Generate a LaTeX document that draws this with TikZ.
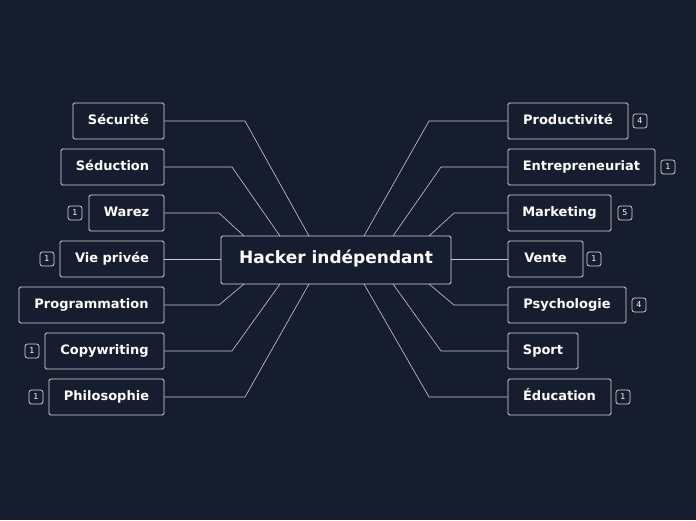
\documentclass[tikz,border=0pt]{standalone}
\usepackage{fontspec}
\setmainfont{DejaVu Sans}
\begin{document}
\begin{tikzpicture}[x=1pt,y=-1pt,
  bx/.style={draw=white!85!black,fill=bg,rounded corners=1.5pt,line width=0.8pt,text=white,font=\bfseries\fontsize{13}{15}\selectfont,minimum height=36pt,inner xsep=0pt,text depth=0em,text height=0.72em},
  badge/.style={draw=white!85!black,rounded corners=2.5pt,line width=0.7pt,text=white,font=\fontsize{8}{9}\selectfont,minimum width=14pt,minimum height=14pt,inner sep=0pt},
  ln/.style={draw=white!80!black,line width=0.6pt}]
\definecolor{bg}{HTML}{161D2E}
\fill[bg] (0,0) rectangle (696,520);
\useasboundingbox (0,0) rectangle (696,520);
\node[bx,minimum width=230pt,minimum height=48pt,font=\bfseries\fontsize{17}{20}\selectfont] (c) at (336,260) {Hacker indépendant};
% left
\node[bx,minimum width=91pt] (l1) at (118.5,121) {Sécurité};
\node[bx,minimum width=103pt] (l2) at (112.5,167) {Séduction};
\node[bx,minimum width=75pt] (l3) at (126.5,213) {Warez};
\node[bx,minimum width=104pt] (l4) at (112,259) {Vie privée};
\node[bx,minimum width=145pt] (l5) at (91.5,305) {Programmation};
\node[bx,minimum width=119pt] (l6) at (104.5,351) {Copywriting};
\node[bx,minimum width=115pt] (l7) at (106.5,397) {Philosophie};
\node[badge] (b3) at (75,213) {1};
\node[badge] (b4) at (47,259) {1};
\node[badge] (b6) at (32,351) {1};
\node[badge] (b7) at (36,397) {1};
% right
\node[bx,minimum width=120pt] (r1) at (568,121) {Productivité};
\node[bx,minimum width=147pt] (r2) at (581.5,167) {Entrepreneuriat};
\node[bx,minimum width=103pt] (r3) at (559.5,213) {Marketing};
\node[bx,minimum width=75pt] (r4) at (545.5,259) {Vente};
\node[bx,minimum width=118pt] (r5) at (567,305) {Psychologie};
\node[bx,minimum width=70pt] (r6) at (543,351) {Sport};
\node[bx,minimum width=103pt] (r7) at (559.5,397) {Éducation};
\node[badge] (s1) at (640,121) {4};
\node[badge] (s2) at (668,167) {1};
\node[badge] (s3) at (625,213) {5};
\node[badge] (s4) at (594,259) {1};
\node[badge] (s5) at (639,305) {4};
\node[badge] (s7) at (623,397) {1};
% connectors
\draw[ln] (l1.east) -- (245,121) -- (309,236);
\draw[ln] (l2.east) -- (232,167) -- (280,236);
\draw[ln] (l3.east) -- (219,213) -- (244,236);
\draw[ln] (l4.east) -- (c.west|-l4.east);
\draw[ln] (l5.east) -- (219,305) -- (244,284);
\draw[ln] (l6.east) -- (232,351) -- (280,284);
\draw[ln] (l7.east) -- (245,397) -- (309,284);
\draw[ln] (r1.west) -- (429,121) -- (364,236);
\draw[ln] (r2.west) -- (441,167) -- (393,236);
\draw[ln] (r3.west) -- (454,213) -- (429,236);
\draw[ln] (r4.west) -- (c.east|-r4.west);
\draw[ln] (r5.west) -- (454,305) -- (429,284);
\draw[ln] (r6.west) -- (441,351) -- (393,284);
\draw[ln] (r7.west) -- (429,397) -- (364,284);
\end{tikzpicture}
\end{document}
